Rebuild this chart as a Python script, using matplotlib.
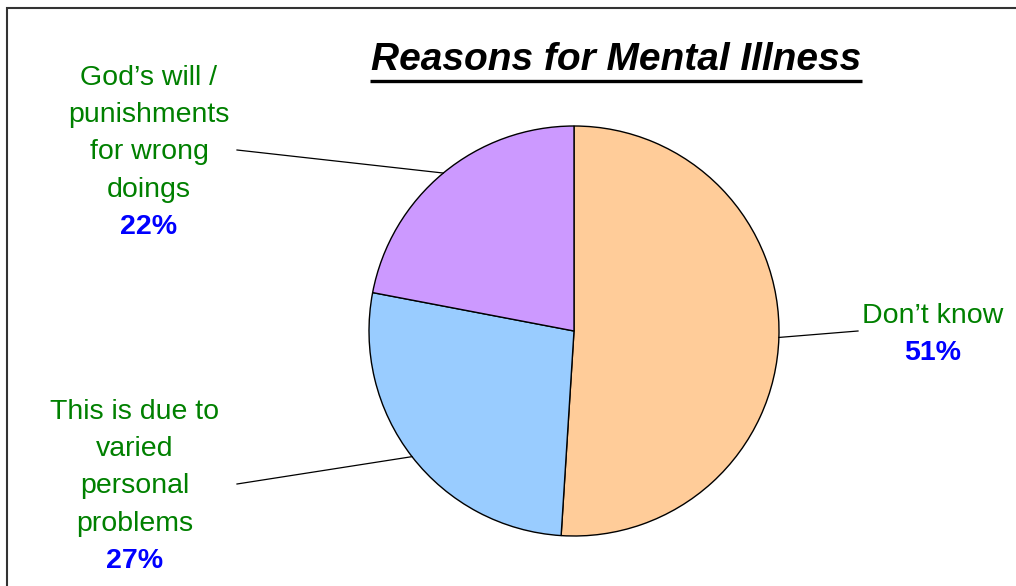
import matplotlib.pyplot as plt
from matplotlib.patches import Rectangle
import numpy as np

# Survey answers
labels = ["Don\u2019t know", "This is due to\nvaried\npersonal\nproblems", "God\u2019s will /\npunishments\nfor wrong\ndoings"]
shares = [51, 27, 22]
colors = ["#FFCC99", "#99CCFF", "#CC99FF"]

# where each callout text sits (pixels from the top-left) and where its leader ends
label_pos = [(933, 316), (135, 412), (149, 78)]
leader_end = [(858, 331), (237, 484), (237, 150)]

W, H = 1016, 586
fig = plt.figure(figsize=(W / 100, H / 100), dpi=100)
ax = fig.add_axes([0, 0, 1, 1])

cx, cy, r = 574, H - 331, 205
wedges, _ = ax.pie(shares, colors=colors, startangle=90, counterclock=False,
                   center=(cx, cy), radius=r,
                   wedgeprops=dict(edgecolor="black", linewidth=1.0))
ax.set_xlim(0, W)
ax.set_ylim(0, H)
ax.set_aspect("equal")
ax.axis("off")

# outer frame
ax.add_patch(Rectangle((7, -20), W + 40, H - 8 + 20, fill=False,
                       edgecolor="#333333", linewidth=1.5, clip_on=False))

# title with underline
ax.text(616, H - 60, "Reasons for Mental Illness", ha="center", va="center",
        fontsize=28, fontweight="bold", fontstyle="italic",
        family="Liberation Sans", color="black")
ax.plot([370, 862], [H - 81, H - 81], color="black", linewidth=2.4,
        solid_capstyle="butt")

step = 37.2
for w, lab, val, (tx, ty), (ex, ey) in zip(wedges, labels, shares, label_pos, leader_end):
    mid = np.deg2rad((w.theta1 + w.theta2) / 2)
    px, py = cx + r * np.cos(mid), cy + r * np.sin(mid)
    ax.plot([px, ex], [py, H - ey], color="black", linewidth=0.9)
    lines = lab.split("\n")
    for i, line in enumerate(lines):
        ax.text(tx, H - (ty + i * step), line, ha="center", va="center",
                fontsize=20.5, family="Liberation Sans", color="#008000")
    ax.text(tx, H - (ty + len(lines) * step), f"{val}%", ha="center", va="center",
            fontsize=20.5, fontweight="bold", family="Liberation Sans", color="#0000FF")

fig.savefig("out.png", dpi=100)
